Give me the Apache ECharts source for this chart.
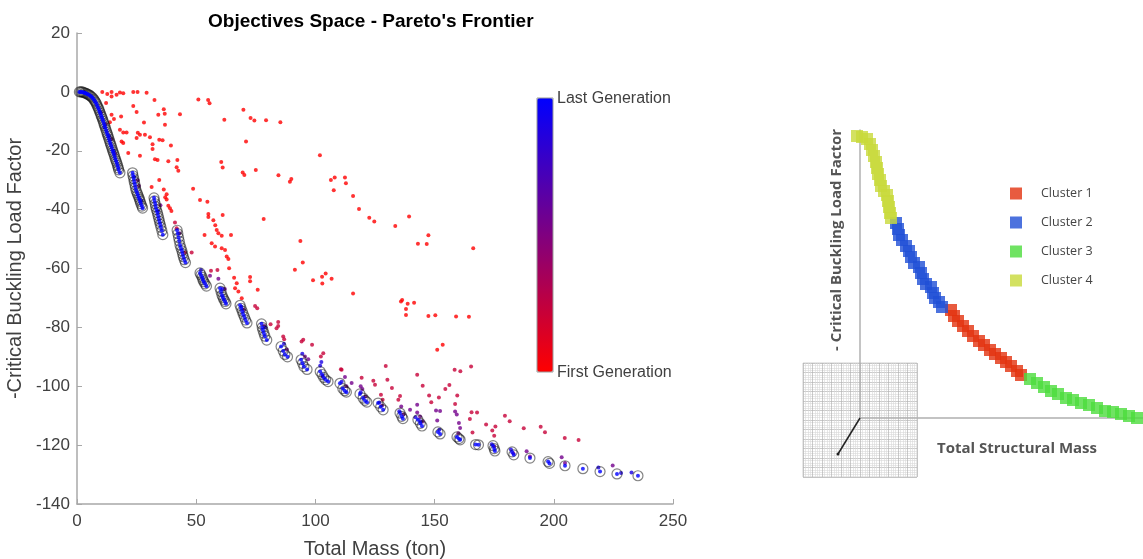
<!DOCTYPE html>
<html>
<head>
<meta charset="utf-8">
<script src="https://cdn.jsdelivr.net/npm/echarts@6/dist/echarts.min.js"></script>
<style>
  html, body { margin: 0; padding: 0; background: #fff; }
  #main { width: 1143px; height: 559px; }
</style>
</head>
<body>
<div id="main"></div>
<script>
// ---- left plot: objectives space ----
var xTicks = [0, 50, 100, 150, 200, 250];
var yTicks = [-140, -120, -100, -80, -60, -40, -20, 0, 20];

// pareto front of the last generation [mass, -buckling]
var frontPoints = [
  [1,0],[1.5,0],[2,0],[2.5,-0.1],[3,-0.3],[3.5,-0.4],[4,-0.6],[4.5,-0.8],[5,-1],[5.5,-1.3],[6,-1.6],
  [6.5,-2],[7,-2.5],[7.4,-3],[7.8,-3.5],[8.2,-4.1],[8.5,-4.8],[8.9,-5.4],[9.2,-6],[9.5,-6.7],[9.8,-7.3],
  [10.1,-8],[10.4,-8.6],[10.7,-9.3],[11,-10],[11.3,-10.8],[11.6,-11.5],[11.9,-12.2],[12.2,-13],[12.5,-13.8],
  [12.8,-14.5],[13.1,-15.2],[13.4,-16],[13.7,-16.8],[14,-17.5],[14.3,-18.2],[14.6,-19],[14.9,-19.8],
  [15.2,-20.5],[15.5,-21.2],[15.8,-22],[16.1,-22.8],[16.4,-23.5],[16.7,-24.2],[17,-25],[17.3,-25.8],
  [17.5,-26.5],[18,-27.5],
  [23.3,-27.5],[23.5,-28.5],[23.8,-29.5],[24,-30.5],[24.3,-31.5],[24.5,-32.5],[24.8,-33.5],[25.2,-34.3],
  [25.5,-35],[25.9,-35.8],[26.2,-36.5],[26.5,-37.2],[26.8,-38],[27.2,-38.8],[27.5,-39.5],
  [32.3,-36],[32.5,-37],[32.8,-38],[33,-39],[33.3,-40],[33.7,-41],[34,-42],[34.3,-43],[34.6,-44],
  [34.9,-45],[35.2,-46],[35.6,-47.2],[36,-48.5],
  [42,-47],[42.3,-48.2],[42.6,-49.5],[42.9,-50.7],[43.2,-52],[43.6,-53],[44,-54],[44.3,-55],[44.6,-56],
  [45,-57],[45.5,-58],
  [51.6,-61.5],[52,-62.2],[52.5,-63],[52.8,-63.8],[53.2,-64.5],[53.7,-65.2],[54.3,-66],
  [60,-66.7],[60.4,-67.8],[60.8,-69],[61.2,-69.8],[61.6,-70.5],[62.1,-71.2],[62.5,-72],
  [68.4,-72.5],[68.8,-73.5],[69.3,-74.5],[69.7,-75.5],[70.2,-76.5],[70.7,-77.5],[71.3,-78.5],
  [77.4,-78.8],[77.7,-80],[78,-81],[78.4,-82],[78.8,-83],[79.6,-84.3],
  [85.6,-86.5],[86.5,-88],[87.2,-89.2],[88.3,-90],
  [94,-91],[94.6,-92.2],[95.2,-93.3],[96.5,-94.3],
  [102,-95],[102.8,-96],[103.5,-97],[104.3,-97.8],[105.3,-98.4],
  [110.3,-99],[111.5,-100.8],[112.3,-101.5],[113,-102],
  [118.7,-102.6],[120,-104],[120.8,-104.8],[121.6,-105.4],
  [126.3,-105.7],[127.4,-107],[128.4,-108],
  [135.5,-109.1],[136.2,-110.2],[136.7,-111],
  [143,-111.4],[144,-112.6],[144.7,-113.5],
  [151.4,-115.5],[152.3,-116.2],
  [159.4,-117.2],[160.2,-117.8],[160.7,-118.2],
  [167.2,-119.8],[168.4,-119.9],
  [174.5,-120.2],[175,-121.2],[175.3,-122],
  [182.5,-122.3],[183.2,-123.3],
  [190,-124.4],
  [197.6,-125.6],[198.2,-126.2],
  [204.7,-127],[212.2,-128],[219.4,-129],[226.5,-129.8],[235.3,-130.4]
];

// individuals of earlier generations [mass, -buckling]
var firstGen = [
  [10.6,0],[14.5,0],[18,-0.2],[19.4,-0.5],[23.6,0],[25.4,0],[29.2,-0.3],[12.7,-0.7],[14.5,-1.6],[16.6,-1],
  [12.2,-3.8],[23.6,-4.8],[25,-6.8],[32.5,-2.8],[36.4,-5.9],[36.8,-7.4],[34.1,-7.8],[43.2,-7.6],[50.9,-2.6],
  [55,-2.8],[55.6,-3.9],[14.5,-7.8],[15.5,-9.2],[18.5,-8.4],[13.8,-10.3],[28.1,-10.4],[36.9,-11.2],[18,-12.9],
  [19.4,-13.8],[20.8,-13.8],[25.5,-13.9],[26.4,-14.6],[28.5,-14.6],[30.6,-15.4],[25,-15.7],[34.5,-16.3],
  [35.9,-16.4],[18.7,-16.9],[19.4,-17.4],[31.7,-17.8],[31.7,-19.4],[39.4,-18.2],[21.5,-20.8],[26.4,-21.7],
  [32.7,-22.9],[33.8,-23.1],[38.3,-23.6],[42.1,-23.1],[41.8,-25.6],[42.5,-26.8],[34.5,-29.9],[31.3,-32.3],
  [36.4,-33.2],[37.6,-34.8],[37,-35.8],[37.6,-36.6],[48.7,-32.9],[51.6,-36.7],[54.7,-37.3],[39,-39.5],
  [39.6,-40.5],[38.3,-38.7],
  [61.8,-9.5],[69.8,-6.1],[72.8,-8.9],[74.4,-9.7],[79.3,-9.6],[85.3,-10.3],[70.9,-16.9],[101.9,-21.5],
  [60.5,-23.8],[61.1,-25.7],[69.5,-27.4],[70.2,-28.2],[75,-26.5],[84.5,-28.3],[89.9,-29.6],[89.3,-30.5],
  [106.5,-29.9],[108.1,-29.1],[112.4,-29.1],[112.8,-31],[107.7,-33.4],[115.8,-35.4],[118.3,-39.8],
  [122.6,-42.8],[124.7,-44],[133.5,-45.6],[139.3,-42.3],[143,-51.6],[146.7,-51.7],[147.4,-48.7],
  [166.2,-53.1],[78.3,-43.2],[93.7,-50.7],[94.7,-58],[91.4,-60.4],[72.6,-62.9],[72.6,-64.3],[75.8,-67.2],
  [99,-64],[102.8,-62.8],[104.3,-61.7],[102.9,-65.1],[106.8,-63.5],[115.8,-68.5],[135.9,-71.2],
  [136.4,-70.7],[138.7,-72],[141.4,-71.6],[138,-73.8],[138,-75.8],[147.4,-76.1],[150.3,-75.9],
  [159,-76.3],[164.4,-76.4],[151.1,-87.6],[153.4,-85.9],
  [55.1,-41.5],[55.1,-42.5],[57.2,-43.6],[58,-45.3],[58.6,-46.9],[59.3,-48],[61.1,-41.8],[64.6,-48.6],
  [53.5,-48.6],[60.7,-48.9],[56.5,-51.4],[57.9,-52.5],[60.7,-53.1],[62.1,-53.7],[62.8,-55.9],[63.5,-56.8],
  [63.8,-59.9],[65.9,-63.1],[67,-65],[66.3,-66.7],[67.7,-67.8],[69.1,-70.1]
];
var midGen = [
  [158.4,-94.4],[160.8,-94.9],[165.3,-93.3],[129.5,-93.1],[111,-94.4],[119.4,-97.1],[124.3,-98.1],
  [125,-99.5],[130.2,-97.8],[132.1,-100.6],[142.7,-96.1],[145,-99.8],[154.5,-100.9],[156.2,-99.6],
  [147.7,-103.1],[151.8,-103.8],[159.5,-103.1],[148.6,-105.4],[158.6,-106],[165.5,-108.8],[167.8,-108.9],
  [164.8,-111.1],[165.9,-115.7],[171.6,-113],[175.5,-113.7],[174.2,-115],[175,-116.8],[179.5,-110],
  [181.5,-111.9],[187.4,-114.3],[194.5,-113.8],[196.3,-115.6],[204.6,-117.6],[210.4,-118.3],
  [84.4,-78.2],[81.2,-78.9],[84.4,-79.5],[83.7,-80.3],[86.5,-83.1],[86.9,-84],[94.2,-84.8],[94.9,-84.2],
  [98.6,-85.9],[102.3,-89.9],[103.3,-88.8],[110.7,-94.2],[41.1,-44.4],[41.8,-46.3],[45.3,-54.6],
  [48.1,-54.6],[56.2,-60.8],[58.9,-60.5],[74.7,-72.7],[75.6,-73.5],[127.5,-102.9],[128.2,-104.6],
  [135.5,-103.3],[134.8,-104.6]
];
var lateGen = [
  [136,-106.9],[139.7,-108],[142.7,-106.3],[142.7,-108.9],[143.9,-110.3],[150.6,-108.2],[152.3,-108.4],
  [151.1,-111.6],[158.6,-108.6],[159.3,-109.6],[160.2,-112.5],[160.7,-114.2],[112.4,-96.9],[115.2,-98.9],
  [119,-100],[119.7,-100.9],[188.6,-122.1],[190,-123.9],[203.3,-124.1],[204.7,-126.1],[224.7,-126.9],
  [95.6,-89.9],[97,-90.8],[55.8,-62.5],[59.3,-63.5],[25.5,-30],[26,-32],[35,-38.5],[43,-48],[62,-67],
  [70,-74],[78.5,-79.5],[88,-87.5],[103,-96.5],[113,-100],[121,-103.5],[128,-106.5],[137,-109.5],
  [145,-112],[160,-116],[175,-120.5],[183,-122.8],[10,-7],[12,-11],[14.5,-16],[16,-21]
];
var nearLastGen = [
  [102.5,-91.8],[218.7,-127.6],[232.6,-129.3],[228.2,-129.5],[79,-80],[86.8,-85.6],[94.5,-89],[102,-93],
  [111,-98.5],[119,-102],[126.8,-105.5],[135.2,-108.5],[142,-110.5],[27,-37],[24,-28.8],[34,-40.5],
  [52,-60.5],[61,-67],[69,-73],[144,-111.9],[152,-114.8],[174,-119.7],[182,-121.5],[3,0],[11.5,-12],
  [13.5,-15],[15.5,-20]
];
var genLevels = [0, 0.22, 0.55, 0.9];

// ---- right plot: clusters of the front (schematic units) ----
var cluster1 = [[91,108],[94,102],[98,97],[103,92],[108,87],[113,82],[119,77],[124,73],[130,68],[135,64],
  [141,60],[146,56],[151,52],[157,47],[161,43]];
var cluster2 = [[36,195],[38,189],[39,183],[42,178],[46,172],[49,167],[51,161],[54,155],[59,151],[61,145],
  [63,139],[66,134],[71,131],[73,125],[75,120],[79,116],[82,111]];
var cluster3 = [[170,39],[177,35],[184,31],[191,27],[198,24],[206,20],[213,18],[221,15],[229,13],[237,10],
  [245,7],[253,6],[261,4],[269,2],[277,0]];
var cluster4 = [[-3,282],[2,281],[7,279],[10,274],[12,268],[14,262],[16,256],[17,250],[18,244],[20,238],
  [21,232],[24,227],[27,223],[28,217],[29,211],[30,205],[31,200]];
var clusterNames = ['Cluster 1', 'Cluster 2', 'Cluster 3', 'Cluster 4'];
var clusterColors = ['#e2320f', '#1f4fd6', '#4cdc3c', '#c8da3a'];

function withGen(list, g) {
  return list.map(function (p) { return [p[0], p[1], g]; });
}
var genPoints = [].concat(
  withGen(firstGen, genLevels[0]), withGen(midGen, genLevels[1]),
  withGen(lateGen, genLevels[2]), withGen(nearLastGen, genLevels[3]));

var chart = echarts.init(document.getElementById('main'));

var axisGray = '#a8a8a8';
var textGray = '#404040';

function paperAxis() {
  return {
    gridIndex: 2, type: 'value', min: 0, max: 12, interval: 1,
    axisLine: { show: false }, axisTick: { show: false }, axisLabel: { show: false },
    splitLine: { lineStyle: { color: '#b4b4b4', width: 0.7 } },
    minorTick: { show: false, splitNumber: 4 },
    minorSplitLine: { show: true, lineStyle: { color: '#d8d8d8', width: 0.6 } }
  };
}
function clusterAxis(max) {
  return {
    gridIndex: 1, type: 'value', min: 0, max: max,
    axisLine: { onZero: false, lineStyle: { color: '#b0b0b0', width: 1.5 } },
    axisTick: { show: false }, axisLabel: { show: false }, splitLine: { show: false }
  };
}

var option = {
  animation: false,
  backgroundColor: '#fff',
  textStyle: { fontFamily: 'Liberation Sans, Arial, sans-serif' },
  title: {
    text: "Objectives Space - Pareto's Frontier",
    left: 203, top: 7,
    textStyle: { fontSize: 19, fontWeight: 'bold', color: '#000' }
  },
  legend: {
    data: clusterNames,
    orient: 'vertical',
    left: 1005, top: 182,
    itemWidth: 12, itemHeight: 12, itemGap: 16,
    icon: 'rect',
    textStyle: { fontFamily: 'Open Sans', fontSize: 12.5, color: '#444', padding: [0, 0, 0, 14] }
  },
  visualMap: {
    type: 'continuous',
    seriesIndex: 0,
    dimension: 2,
    min: 0, max: 1,
    left: 537, top: 98,
    itemWidth: 16, itemHeight: 274,
    padding: 0,
    calculable: false,
    text: null,
    showLabel: false,
    inRange: { color: ['#ff0000', '#0000ff'] }
  },
  grid: [
    { left: 77, top: 33, width: 596, height: 471, containLabel: false, outerBoundsMode: 'none' },
    { left: 860, top: 130, width: 283, height: 288, containLabel: false, outerBoundsMode: 'none' },
    { left: 803, top: 363, width: 114, height: 114, show: true, borderColor: '#d0d0d0', borderWidth: 1, z: 0,
      containLabel: false, outerBoundsMode: 'none' }
  ],
  xAxis: [
    {
      gridIndex: 0, type: 'value', min: xTicks[0], max: xTicks[xTicks.length - 1], interval: 50,
      name: 'Total Mass (ton)', nameLocation: 'middle', nameGap: 35,
      nameTextStyle: { fontSize: 20, color: textGray },
      axisLine: { onZero: false, lineStyle: { color: axisGray, width: 1.5 } },
      axisTick: { inside: true, length: 5, lineStyle: { color: axisGray } },
      axisLabel: { fontSize: 17, color: textGray, margin: 9 },
      splitLine: { show: false }
    },
    clusterAxis(283),
    paperAxis()
  ],
  yAxis: [
    {
      gridIndex: 0, type: 'value', min: yTicks[0], max: yTicks[yTicks.length - 1], interval: 20,
      name: '-Critical Buckling Load Factor', nameLocation: 'middle', nameGap: 35,
      nameTextStyle: { fontSize: 20, color: textGray },
      axisLine: { onZero: false, lineStyle: { color: axisGray, width: 1.5 } },
      axisTick: { inside: true, length: 5, lineStyle: { color: axisGray } },
      axisLabel: { fontSize: 17, color: textGray, margin: 7 },
      splitLine: { show: false }
    },
    clusterAxis(288),
    paperAxis()
  ],
  graphic: [
    { type: 'text', left: 557, top: 91, style: { text: 'Last Generation', fontSize: 16, fill: textGray, fontFamily: 'Liberation Sans' } },
    { type: 'text', left: 557, top: 365, style: { text: 'First Generation', fontSize: 16, fill: textGray, fontFamily: 'Liberation Sans' } },
    { type: 'rect', shape: { x: 537, y: 98, width: 16, height: 274 }, style: { fill: 'none', stroke: '#999', lineWidth: 1 }, z: 10 },
    { type: 'line', shape: { x1: 860, y1: 418, x2: 838, y2: 454 }, style: { stroke: '#222', lineWidth: 1.5 }, z: 10 },
    { type: 'circle', shape: { cx: 838, cy: 454, r: 1.5 }, style: { fill: '#222' }, z: 10 },
    { type: 'text', x: 837, y: 240, rotation: Math.PI / 2,
      style: { text: '- Critical Buckling Load Factor', fontSize: 15, fontWeight: 'bold', fill: '#555',
        fontFamily: 'Open Sans', align: 'center', verticalAlign: 'middle' } },
    { type: 'text', left: 937, top: 441,
      style: { text: 'Total Structural Mass', fontSize: 15, fontWeight: 'bold', fill: '#555', fontFamily: 'Open Sans' } }
  ],
  series: [
    {
      name: 'generations', type: 'scatter', xAxisIndex: 0, yAxisIndex: 0,
      data: genPoints, symbolSize: 4, z: 2
    },
    {
      name: 'front rings', type: 'scatter', xAxisIndex: 0, yAxisIndex: 0,
      data: frontPoints, symbolSize: 10, z: 3,
      itemStyle: { color: 'rgba(255,255,255,0)', borderColor: 'rgba(20,20,20,0.65)', borderWidth: 1.2 }
    },
    {
      name: 'front', type: 'scatter', xAxisIndex: 0, yAxisIndex: 0,
      data: frontPoints, symbolSize: 4, z: 4,
      itemStyle: { color: '#0000ff' }
    },
    { name: clusterNames[0], type: 'scatter', xAxisIndex: 1, yAxisIndex: 1, data: cluster1, symbol: 'rect', symbolSize: 12, clip: false, itemStyle: { color: clusterColors[0] } },
    { name: clusterNames[1], type: 'scatter', xAxisIndex: 1, yAxisIndex: 1, data: cluster2, symbol: 'rect', symbolSize: 12, clip: false, itemStyle: { color: clusterColors[1] } },
    { name: clusterNames[2], type: 'scatter', xAxisIndex: 1, yAxisIndex: 1, data: cluster3, symbol: 'rect', symbolSize: 12, clip: false, itemStyle: { color: clusterColors[2] } },
    { name: clusterNames[3], type: 'scatter', xAxisIndex: 1, yAxisIndex: 1, data: cluster4, symbol: 'rect', symbolSize: 12, clip: false, itemStyle: { color: clusterColors[3] } }
  ]
};

chart.setOption(option);
</script>
</body>
</html>
